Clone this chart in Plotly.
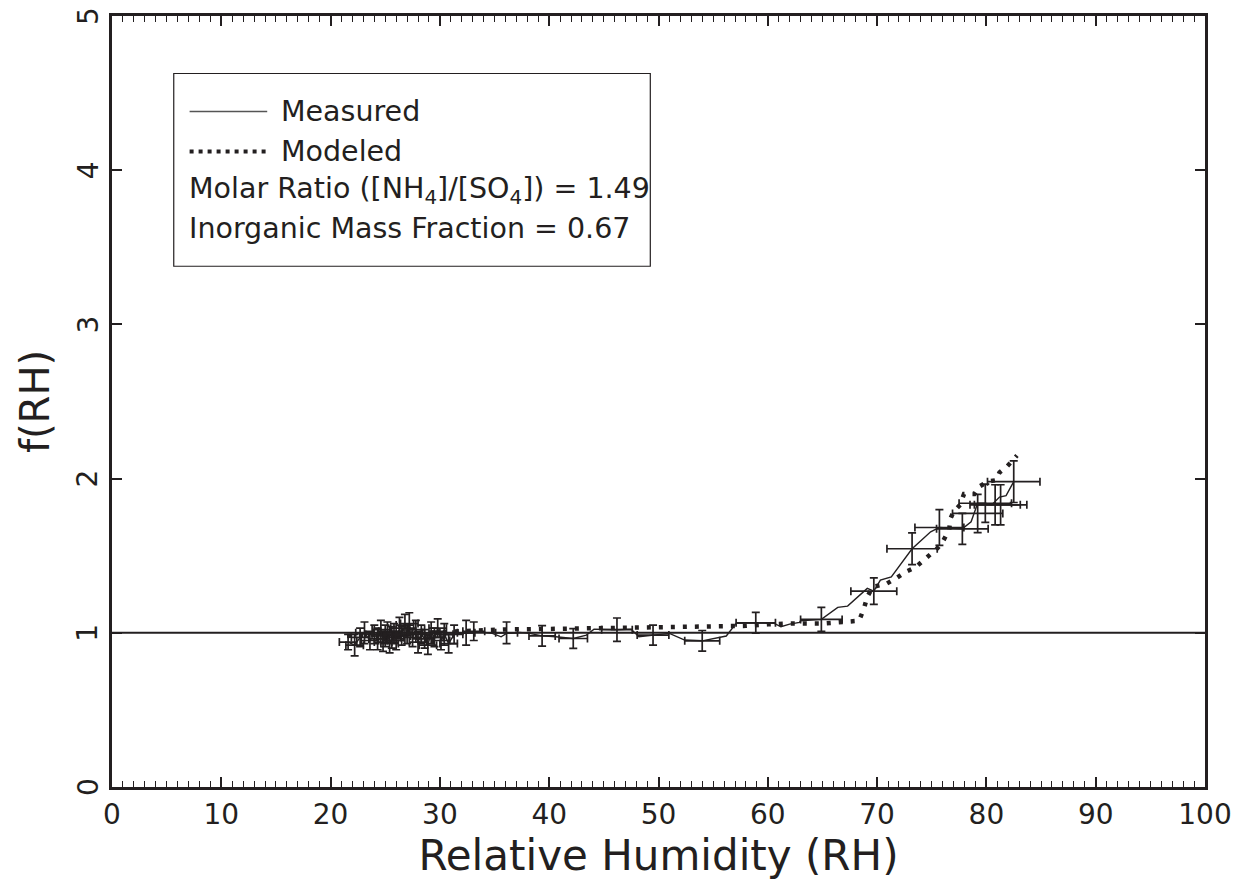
import plotly.graph_objects as go

INK = "#231f20"
FONT = "DejaVu Sans"

# Measured points with error bars
meas_x = [21.6, 22.2, 22.7, 23.1, 23.6, 24.0, 24.3, 24.6, 24.8, 25.0, 25.2, 25.4, 25.6, 25.8,
          26.0, 26.3, 26.5, 26.8, 27.0, 27.2, 27.5, 27.8, 28.0, 28.3, 28.6, 28.9, 29.2, 29.5,
          29.8, 30.1, 30.4, 30.8, 31.3, 32.4, 33.1, 36.1, 39.35, 42.2, 46.2, 49.5, 54.0, 58.9,
          64.9, 69.7, 73.2, 75.7, 77.8, 79.2, 79.9, 80.8, 81.3, 82.5]
meas_y = [0.94, 0.92, 0.97, 1.00, 0.95, 0.99, 0.96, 1.02, 0.94, 0.98, 1.01, 0.93, 0.97, 1.00,
          0.95, 1.03, 0.98, 1.05, 0.99, 1.06, 0.97, 1.02, 0.94, 0.99, 0.96, 0.92, 1.00, 0.97,
          1.03, 0.95, 0.99, 0.93, 0.99, 1.00, 1.01, 1.00, 0.98, 0.963, 1.02, 0.985, 0.948, 1.065,
          1.087, 1.27, 1.545, 1.683, 1.674, 1.774, 1.84, 1.83, 1.83, 1.98]
meas_ex = [0.8] * 34 + [1.0, 1.0, 1.2, 1.3, 1.4, 1.45, 1.6, 1.8,
                        1.9, 2.1, 2.3, 2.24, 2.36, 2.3, 2.4, 2.3, 2.4, 2.4]
meas_ey = [0.05, 0.07, 0.06, 0.07, 0.06, 0.06, 0.07, 0.06, 0.06, 0.07, 0.06, 0.06, 0.07, 0.06,
           0.06, 0.07, 0.06, 0.07, 0.06, 0.07, 0.06, 0.06, 0.07, 0.06, 0.06, 0.06, 0.07, 0.06,
           0.06, 0.06, 0.07, 0.06, 0.06, 0.08, 0.06, 0.07, 0.067, 0.064, 0.076, 0.065, 0.067, 0.067,
           0.078, 0.086, 0.103, 0.116, 0.10, 0.124, 0.124, 0.13, 0.13, 0.135]

# Measured (smoothed) line
line_x = [21.6, 22.2, 22.7, 23.1, 23.6, 24.0, 24.3, 24.6, 24.8, 25.0, 25.2, 25.4, 25.6, 25.8,
          26.0, 26.3, 26.5, 26.8, 27.0, 27.2, 27.5, 27.8, 28.0, 28.3, 28.6, 28.9, 29.2, 29.5,
          29.8, 30.1, 30.4, 30.8, 31.3, 32.4, 33.6, 34.8, 35.6, 36.1, 37.3, 38.2, 39.35, 40.6,
          42.2, 43.4, 44.1, 46.2, 47.5, 48.2, 49.5, 51.0, 52.4, 54.0, 56.2, 57.1, 58.9, 60.6,
          61.2, 62.0, 62.9, 63.0, 64.9, 66.4, 67.3, 69.1, 69.7, 70.3, 71.3, 73.2, 74.9, 75.7,
          77.8, 78.6, 79.2, 79.9, 80.5, 81.2, 81.8, 82.1, 82.5]
line_y = [0.94, 0.92, 0.97, 1.00, 0.95, 0.99, 0.96, 1.02, 0.94, 0.98, 1.01, 0.93, 0.97, 1.00,
          0.95, 1.03, 0.98, 1.05, 0.99, 1.06, 0.97, 1.02, 0.94, 0.99, 0.96, 0.92, 1.00, 0.97,
          1.03, 0.95, 0.99, 0.93, 0.99, 1.00, 1.007, 0.996, 0.974, 0.996, 1.002, 0.996, 0.98, 0.974,
          0.963, 0.985, 1.024, 1.02, 1.024, 0.974, 0.985, 0.996, 0.953, 0.948, 0.979, 1.061, 1.065, 1.061,
          1.039, 1.056, 1.067, 1.078, 1.087, 1.165, 1.173, 1.288, 1.27, 1.342, 1.363, 1.545, 1.655, 1.683,
          1.674, 1.72, 1.84, 1.84, 1.83, 1.88, 1.89, 1.925, 1.98]

# Modeled curve
mod_x = [21.5, 25.0, 28.0, 31.0, 33.2, 36.0, 40.0, 45.0, 50.0, 55.0, 58.0, 60.0, 62.0, 65.0,
         67.6, 68.35, 68.8, 69.1, 69.6, 70.8, 71.7, 72.6, 73.5, 74.3, 74.9, 75.5, 76.0, 76.6,
         76.7, 77.0, 77.6, 77.95, 78.9, 79.3, 80.1, 80.9, 81.2, 81.9, 82.8]
mod_y = [0.98, 0.99, 1.00, 1.01, 1.02, 1.022, 1.025, 1.03, 1.035, 1.04, 1.045, 1.055, 1.06, 1.06,
         1.07, 1.078, 1.158, 1.233, 1.298, 1.316, 1.352, 1.395, 1.424, 1.471, 1.515, 1.547, 1.59, 1.67,
         1.74, 1.785, 1.83, 1.90, 1.90, 1.946, 1.98, 1.99, 2.04, 2.08, 2.15]

x_ticks = [0, 10, 20, 30, 40, 50, 60, 70, 80, 90, 100]
y_ticks = [0, 1, 2, 3, 4, 5]

legend_lines = ["Measured", "Modeled",
                "Molar Ratio ([NH<sub>4</sub>]/[SO<sub>4</sub>]) = 1.49",
                "Inorganic Mass Fraction = 0.67"]

fig = go.Figure()

# reference line at f(RH)=1
fig.add_trace(go.Scatter(x=[0, 100], y=[1, 1], mode="lines",
                         line=dict(color=INK, width=2), showlegend=False, hoverinfo="skip"))

fig.add_trace(go.Scatter(
    x=meas_x, y=meas_y, mode="markers",
    marker=dict(size=1, color=INK),
    error_x=dict(type="data", array=meas_ex, color=INK, thickness=1.7, width=4),
    error_y=dict(type="data", array=meas_ey, color=INK, thickness=1.7, width=4),
    showlegend=False))

fig.add_trace(go.Scatter(x=line_x, y=line_y, mode="lines",
                         line=dict(color=INK, width=1.4), showlegend=False))

fig.add_trace(go.Scatter(x=mod_x, y=mod_y, mode="lines",
                         line=dict(color=INK, width=4.5, dash="4px,8px"), showlegend=False))

# legend box
fig.add_shape(type="rect", xref="x", yref="y", x0=5.65, x1=49.25, y0=3.377, y1=4.627,
              line=dict(color=INK, width=1.2), fillcolor="white")
fig.add_shape(type="line", xref="x", yref="y", x0=7.1, x1=14.2, y0=4.381, y1=4.381,
              line=dict(color="#555", width=1.5))
fig.add_shape(type="line", xref="x", yref="y", x0=7.1, x1=14.2, y0=4.122, y1=4.122,
              line=dict(color=INK, width=4, dash="4px,5px"))
legend_pos = [(15.3, 4.381), (15.3, 4.122), (6.9, 3.869), (6.9, 3.623)]
for txt, (lx, ly) in zip(legend_lines, legend_pos):
    fig.add_annotation(x=lx, y=ly, xref="x", yref="y", text=txt, showarrow=False,
                       xanchor="left", yanchor="middle",
                       font=dict(family=FONT, size=28.5, color=INK))

# rotated y tick labels (placed as annotations so the top one stays fully visible)
for v in y_ticks:
    fig.add_annotation(x=0, y=v, xref="paper", yref="y", text=str(v), showarrow=False,
                       textangle=-90, xanchor="center", yanchor="middle", xshift=-24,
                       font=dict(family=FONT, size=28, color=INK))

axis_common = dict(showgrid=False, zeroline=False, showline=True, linecolor=INK, linewidth=3,
                   mirror="allticks", ticks="inside", tickcolor=INK, tickwidth=1.5,
                   automargin=False, ticklabeloverflow="allow",
                   tickfont=dict(family=FONT, size=28, color=INK))

fig.update_xaxes(range=[0, 100], tickvals=x_ticks, ticklen=10,
                 minor=dict(dtick=1, ticks="inside", ticklen=6, tickcolor=INK, tickwidth=1.2),
                 title=dict(text="Relative Humidity (RH)", font=dict(family=FONT, size=42, color=INK),
                            standoff=10),
                 **axis_common)
fig.update_yaxes(range=[0, 5], tickvals=y_ticks, ticklen=10, showticklabels=False,
                 title=dict(text="f(RH)", font=dict(family=FONT, size=40, color=INK), standoff=48),
                 **axis_common)

fig.update_layout(width=1239, height=888, plot_bgcolor="white", paper_bgcolor="white",
                  margin=dict(l=104, r=42, t=8, b=109), showlegend=False)

fig.write_html("out.html")
